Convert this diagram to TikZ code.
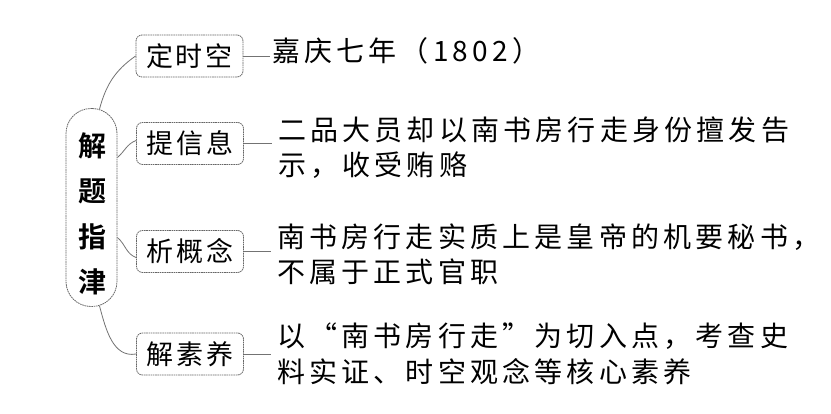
\documentclass[tikz,border=0pt]{standalone}
\usepackage{fontspec}
\newfontfamily\cjk[LetterSpace=15]{Noto Sans CJK SC}
\newfontfamily\cjkbox[LetterSpace=11]{Noto Sans CJK SC}
\newfontfamily\cjkbold[BoldFont={* Bold}]{Noto Sans CJK SC}
\begin{document}
\begin{tikzpicture}[x=1pt,y=-1pt,
  box/.style={draw=black!60, line width=0.8pt, dash pattern=on 1.6pt off 0.7pt,
    rounded corners=6pt, minimum width=107pt, minimum height=42pt, inner sep=0pt,
    font=\cjkbox\fontsize{27}{30}\selectfont},
  rootbox/.style={draw=black!60, line width=0.8pt, dash pattern=on 1.6pt off 0.7pt,
    rounded corners=25pt, minimum width=51pt, minimum height=198pt, inner sep=0pt},
  desc/.style={anchor=west, align=left, inner sep=0pt,
    font=\cjk\fontsize{28}{35.5}\selectfont},
  link/.style={draw=black!55, line width=0.8pt}]
\useasboundingbox (0,0) rectangle (831,414);
\node[rootbox] (root) at (91.5,207.5) {};
\node[align=center, inner sep=0pt, font=\cjkbold\bfseries\fontsize{28}{45.5}\selectfont] (rt) at (92,214) {解\\题\\指\\津};
\node[box] (b1) at (189.5,56) {定时空};
\node[box] (b2) at (190,143.5) {提信息};
\node[box] (b3) at (190,251.5) {析概念};
\node[box] (b4) at (190,354) {解素养};
\node[desc] (t1) at (272,51) {嘉庆七年（1802）};
\node[desc] (t2) at (278,147.5) {二品大员却以南书房行走身份擅发告\\示，收受贿赂};
\node[desc] (t3) at (277,254.5) {南书房行走实质上是皇帝的机要秘书，\\不属于正式官职};
\node[desc] (t4) at (277,354) {以“南书房行走”为切入点，考查史\\料实证、时空观念等核心素养};
\draw[link] ([xshift=8pt,yshift=-1pt]root.north) to[out=75,in=215] (b1.west);
\draw[link] ([yshift=50pt]root.east) to[out=40,in=200] ([yshift=3pt]b2.west);
\draw[link] ([yshift=-30pt]root.east) to[out=-40,in=160] ([yshift=-6pt]b3.west);
\draw[link] ([xshift=8pt,yshift=1pt]root.south) to[out=-75,in=190] (b4.west);
\draw[link] (b1.east) -- ([xshift=-2pt]b1.east -| t1.west);
\draw[link] (b2.east) -- ([xshift=-6pt]b2.east -| t2.west);
\draw[link] (b3.east) -- ([xshift=-6pt]b3.east -| t3.west);
\draw[link] (b4.east) -- ([xshift=-6pt]b4.east -| t4.west);
\end{tikzpicture}
\end{document}
